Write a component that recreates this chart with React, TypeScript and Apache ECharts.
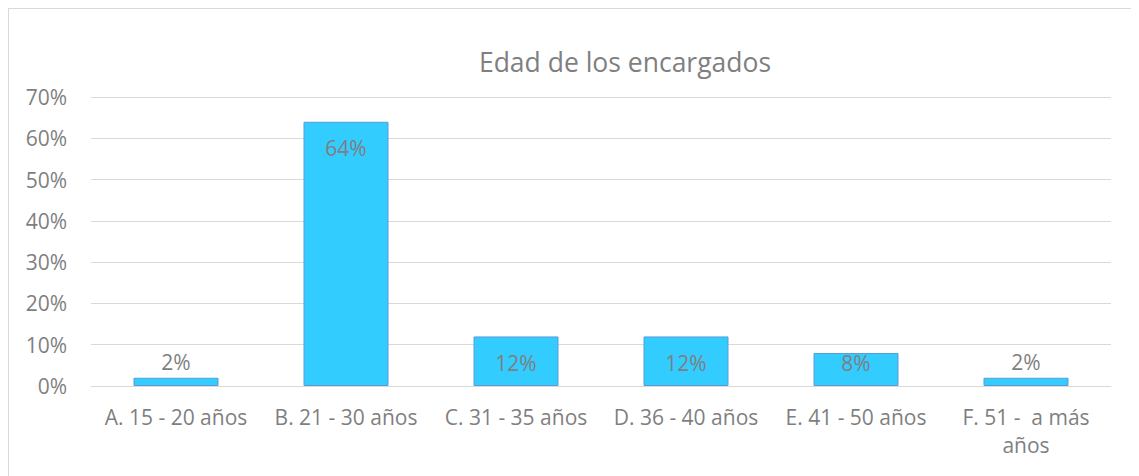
import React, { useEffect, useRef } from "react";
import * as echarts from "echarts";

const categories = [
  "A. 15 - 20 años",
  "B. 21 - 30 años",
  "C. 31 - 35 años",
  "D. 36 - 40 años",
  "E. 41 - 50 años",
  "F. 51 -  a más\naños",
];
const values = [2, 64, 12, 12, 8, 2];
const labelPositions = ["top", "insideTop", "insideTop", "insideTop", "insideTop", "top"];
const labelDistances = [5, 16, 16, 16, 0, 5];
const titleText = "Edad de los encargados";

const FONT = "'Open Sans', 'Noto Sans', sans-serif";
const GRAY = "#7f7f7f";

export default function App() {
  const ref = useRef<HTMLDivElement>(null);
  useEffect(() => {
    if (!ref.current) return;
    const chart = echarts.init(ref.current, undefined, { renderer: "svg" });
    chart.setOption({
      animation: false,
      textStyle: { fontFamily: FONT },
      title: {
        text: titleText,
        left: 611,
        top: 34,
        textAlign: "center",
        textStyle: { fontFamily: FONT, fontSize: 26.5, fontWeight: "normal", color: GRAY },
      },
      grid: { left: 82, right: 28, top: 88, bottom: 90, containLabel: false },
      xAxis: {
        type: "category",
        data: categories,
        axisLine: { show: true, lineStyle: { color: "#d9d9d9", width: 1 } },
        axisTick: { show: false },
        axisLabel: {
          fontFamily: FONT,
          fontSize: 21,
          color: GRAY,
          margin: 17,
          lineHeight: 28,
          interval: 0,
        },
      },
      yAxis: {
        type: "value",
        min: 0,
        max: 70,
        interval: 10,
        axisLine: { show: false },
        axisTick: { show: false },
        splitLine: { lineStyle: { color: "#d9d9d9", width: 1 } },
        axisLabel: {
          fontFamily: FONT,
          fontSize: 21,
          color: GRAY,
          margin: 24,
          formatter: "{value}%",
        },
      },
      series: [
        {
          type: "bar",
          barWidth: "50%",
          data: values.map((v, i) => ({
            value: v,
            label: { position: labelPositions[i], distance: labelDistances[i] },
          })),
          itemStyle: { color: "#33ccff", borderColor: "#5b9bd5", borderWidth: 1 },
          label: {
            show: true,
            formatter: "{c}%",
            fontFamily: FONT,
            fontSize: 21,
            color: GRAY,
          },
        },
      ],
    });
    return () => chart.dispose();
  }, []);
  return (
    <div
      style={{
        width: 1131,
        height: 468,
        borderLeft: "1px solid #d9d9d9",
        borderTop: "1px solid #d9d9d9",
        boxSizing: "border-box",
        overflow: "hidden",
      }}
    >
      <div ref={ref} style={{ width: 1130, height: 467 }} />
    </div>
  );
}
